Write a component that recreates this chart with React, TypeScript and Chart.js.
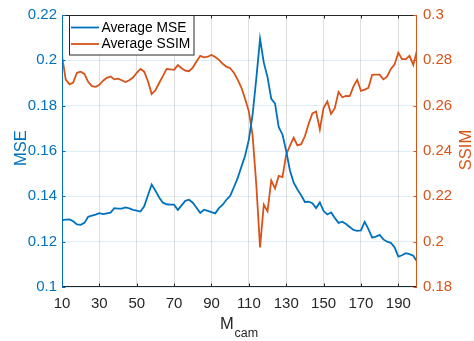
import { useEffect, useRef } from "react";
import { Chart, registerables } from "chart.js";

Chart.register(...registerables);

const mCam = [
  10, 12, 14, 16, 18, 20, 22, 24, 26, 28, 30, 32, 34, 36, 38, 40, 42, 44, 46, 48,
  50, 52, 54, 56, 58, 60, 62, 64, 66, 68, 70, 72, 74, 76, 78, 80, 82, 84, 86, 88,
  90, 92, 94, 96, 98, 100, 102, 104, 106, 108, 110, 112, 114, 116, 118, 120, 122, 124, 126, 128,
  130, 132, 134, 136, 138, 140, 142, 144, 146, 148, 150, 152, 154, 156, 158, 160, 162, 164, 166, 168,
  170, 172, 174, 176, 178, 180, 182, 184, 186, 188, 190, 192, 194, 196, 198, 200,
];

const mseValues = [
  0.1295, 0.1297, 0.1298, 0.129, 0.1276, 0.1274, 0.1283, 0.131, 0.1315, 0.1319,
  0.1326, 0.1322, 0.1325, 0.1328, 0.1348, 0.1346, 0.1346, 0.1351, 0.1347, 0.134,
  0.1337, 0.1333, 0.1356, 0.1405, 0.1452, 0.1425, 0.1395, 0.1372, 0.1365, 0.1363,
  0.1363, 0.134, 0.136, 0.138, 0.1385, 0.1372, 0.135, 0.1327, 0.1341, 0.1336,
  0.133, 0.1325, 0.1348, 0.1363, 0.1385, 0.1402, 0.144, 0.148, 0.153, 0.1579,
  0.165, 0.176, 0.192, 0.2095, 0.199, 0.1926, 0.183, 0.181, 0.1705, 0.1673,
  0.16, 0.1514, 0.146, 0.143, 0.1405, 0.1375, 0.1376, 0.137, 0.1348, 0.1373,
  0.1335, 0.132, 0.1329, 0.1305, 0.1283, 0.1288, 0.1278, 0.1265, 0.1252, 0.1248,
  0.125, 0.1287, 0.1255, 0.1218, 0.1222, 0.123, 0.121, 0.12, 0.1195, 0.1175,
  0.1134, 0.114, 0.1149, 0.1145, 0.1138, 0.1113,
];

const ssimValues = [
  0.282, 0.2715, 0.2694, 0.2702, 0.2745, 0.275, 0.274, 0.2705, 0.2686, 0.2683,
  0.2692, 0.271, 0.2723, 0.2729, 0.2716, 0.2719, 0.2712, 0.2704, 0.2712, 0.2724,
  0.2745, 0.2762, 0.275, 0.2708, 0.2651, 0.2668, 0.27, 0.273, 0.2762, 0.276,
  0.2758, 0.2779, 0.2765, 0.2755, 0.2752, 0.2768, 0.2795, 0.282, 0.2813, 0.2816,
  0.2824, 0.2815, 0.2802, 0.2785, 0.2772, 0.2765, 0.2745, 0.2715, 0.268, 0.263,
  0.2575, 0.247, 0.225, 0.1975, 0.2163, 0.2134, 0.227, 0.2235, 0.229, 0.2285,
  0.2385, 0.2423, 0.2459, 0.2425, 0.243, 0.2465, 0.252, 0.2566, 0.2574, 0.2495,
  0.259, 0.2618, 0.2564, 0.2589, 0.2661, 0.2637, 0.2643, 0.2642, 0.2685, 0.2714,
  0.2665, 0.2671, 0.2679, 0.2736, 0.2737, 0.2737, 0.2716, 0.2728, 0.2762, 0.2782,
  0.2834, 0.2805, 0.2805, 0.282, 0.278, 0.2844,
];

const xTicks = [10, 30, 50, 70, 90, 110, 130, 150, 170, 190];
const mseTicks = [0.1, 0.12, 0.14, 0.16, 0.18, 0.2, 0.22];
const ssimTicks = [0.18, 0.2, 0.22, 0.24, 0.26, 0.28, 0.3];
const seriesLabels = ["Average MSE", "Average SSIM"];

const BLUE = "#0072BD";
const ORANGE = "#D95319";
const DARK = "#262626";
const FONT = "'Liberation Sans', Arial, Helvetica, sans-serif";

const fmt = (v: number) => String(+Number(v).toFixed(2));

const decorPlugin = {
  id: "matlabDecor",
  afterDraw(chart: any) {
    const { ctx, chartArea } = chart;
    const { left, right, top, bottom } = chartArea;
    const x = chart.scales.x;
    const yL = chart.scales.y;
    const yR = chart.scales.y1;
    const tl = 3.5;
    ctx.save();
    ctx.lineWidth = 1;
    // box
    ctx.strokeStyle = DARK;
    ctx.beginPath();
    ctx.moveTo(left, top + 0.5);
    ctx.lineTo(right, top + 0.5);
    ctx.moveTo(left, bottom - 0.5);
    ctx.lineTo(right, bottom - 0.5);
    ctx.stroke();
    // x ticks inward
    ctx.beginPath();
    xTicks.forEach((t) => {
      const px = Math.round(x.getPixelForValue(t)) + 0.5;
      ctx.moveTo(px, bottom);
      ctx.lineTo(px, bottom - tl);
      ctx.moveTo(px, top);
      ctx.lineTo(px, top + tl);
    });
    ctx.stroke();
    // left axis
    ctx.strokeStyle = BLUE;
    ctx.beginPath();
    ctx.moveTo(left + 0.5, top);
    ctx.lineTo(left + 0.5, bottom);
    mseTicks.forEach((t) => {
      const py = Math.round(yL.getPixelForValue(t)) + 0.5;
      ctx.moveTo(left, py);
      ctx.lineTo(left + tl, py);
    });
    ctx.stroke();
    // right axis
    ctx.strokeStyle = ORANGE;
    ctx.beginPath();
    ctx.moveTo(right - 0.5, top);
    ctx.lineTo(right - 0.5, bottom);
    ssimTicks.forEach((t) => {
      const py = Math.round(yR.getPixelForValue(t)) + 0.5;
      ctx.moveTo(right, py);
      ctx.lineTo(right - tl, py);
    });
    ctx.stroke();

    // axis titles
    ctx.font = `16.5px ${FONT}`;
    ctx.textAlign = "center";
    ctx.textBaseline = "middle";
    ctx.fillStyle = BLUE;
    ctx.save();
    ctx.translate(21, 148);
    ctx.rotate(-Math.PI / 2);
    ctx.fillText("MSE", 0, 0);
    ctx.restore();
    ctx.fillStyle = ORANGE;
    ctx.save();
    ctx.translate(466, 150);
    ctx.rotate(-Math.PI / 2);
    ctx.fillText("SSIM", 0, 0);
    ctx.restore();
    // x title with subscript
    ctx.fillStyle = DARK;
    ctx.textBaseline = "alphabetic";
    ctx.textAlign = "left";
    ctx.font = `16.5px ${FONT}`;
    ctx.fillText("M", 220, 328.5);
    ctx.font = `12.5px ${FONT}`;
    ctx.fillText("cam", 234.5, 337);

    // legend
    const lx = 69.5, ly = 15.5, lw = 124.5, lh = 39.5;
    ctx.fillStyle = "#ffffff";
    ctx.fillRect(lx, ly, lw, lh);
    ctx.strokeStyle = DARK;
    ctx.lineWidth = 1;
    ctx.strokeRect(lx, ly, lw, lh);
    const rows = [
      { label: seriesLabels[0], color: BLUE, y: 27.5 },
      { label: seriesLabels[1], color: ORANGE, y: 44 },
    ];
    ctx.font = `13.8px ${FONT}`;
    ctx.textBaseline = "middle";
    rows.forEach((r) => {
      ctx.strokeStyle = r.color;
      ctx.lineWidth = 1.8;
      ctx.beginPath();
      ctx.moveTo(71, r.y);
      ctx.lineTo(99, r.y);
      ctx.stroke();
      ctx.fillStyle = "#000000";
      ctx.fillText(r.label, 101.5, r.y + 0.5);
    });
    ctx.restore();
  },
};

export default function App() {
  const canvasRef = useRef<HTMLCanvasElement | null>(null);

  useEffect(() => {
    document.body.style.margin = "0";
    const canvas = canvasRef.current;
    if (!canvas) return;
    const chart = new Chart(canvas, {
      type: "line",
      data: {
        datasets: [
          {
            label: seriesLabels[0],
            data: mCam.map((m, i) => ({ x: m, y: mseValues[i] })),
            borderColor: BLUE,
            borderWidth: 1.8,
            pointRadius: 0,
            tension: 0,
            yAxisID: "y",
          },
          {
            label: seriesLabels[1],
            data: mCam.map((m, i) => ({ x: m, y: ssimValues[i] })),
            borderColor: ORANGE,
            borderWidth: 1.8,
            pointRadius: 0,
            tension: 0,
            yAxisID: "y1",
          },
        ],
      },
      plugins: [decorPlugin],
      options: {
        animation: false,
        responsive: false,
        events: [],
        layout: { padding: { top: 10, left: 0, right: 0, bottom: 0 } },
        plugins: {
          legend: { display: false },
          tooltip: { enabled: false },
        },
        scales: {
          x: {
            type: "linear",
            min: 10,
            max: 200,
            afterBuildTicks: (s: any) => {
              s.ticks = xTicks.map((v) => ({ value: v }));
            },
            afterFit: (s: any) => {
              s.height = 54;
            },
            grid: { color: "rgba(38,38,38,0.15)", drawTicks: false },
            border: { display: false },
            ticks: {
              color: DARK,
              font: { family: FONT, size: 15 },
              padding: 8,
              maxRotation: 0,
              autoSkip: false,
              callback: (v: any) => String(v),
            },
          },
          y: {
            type: "linear",
            position: "left",
            min: 0.1,
            max: 0.22,
            afterBuildTicks: (s: any) => {
              s.ticks = mseTicks.map((v) => ({ value: v }));
            },
            afterFit: (s: any) => {
              s.width = 62;
            },
            grid: { color: "rgba(0,114,189,0.13)", drawTicks: false },
            border: { display: false },
            ticks: {
              color: BLUE,
              font: { family: FONT, size: 15 },
              padding: 5,
              autoSkip: false,
              callback: (v: any) => fmt(v),
            },
          },
          y1: {
            type: "linear",
            position: "right",
            min: 0.18,
            max: 0.3,
            afterBuildTicks: (s: any) => {
              s.ticks = ssimTicks.map((v) => ({ value: v }));
            },
            afterFit: (s: any) => {
              s.width = 57;
            },
            grid: { display: false, drawTicks: false },
            border: { display: false },
            ticks: {
              color: ORANGE,
              font: { family: FONT, size: 15 },
              padding: 6,
              autoSkip: false,
              callback: (v: any) => fmt(v),
            },
          },
        },
      },
    } as any);
    return () => chart.destroy();
  }, []);

  return (
    <div style={{ position: "absolute", left: 0, top: 0, width: 474, height: 341, background: "#ffffff" }}>
      <canvas ref={canvasRef} width={474} height={341} style={{ width: 474, height: 341, display: "block" }} />
    </div>
  );
}
